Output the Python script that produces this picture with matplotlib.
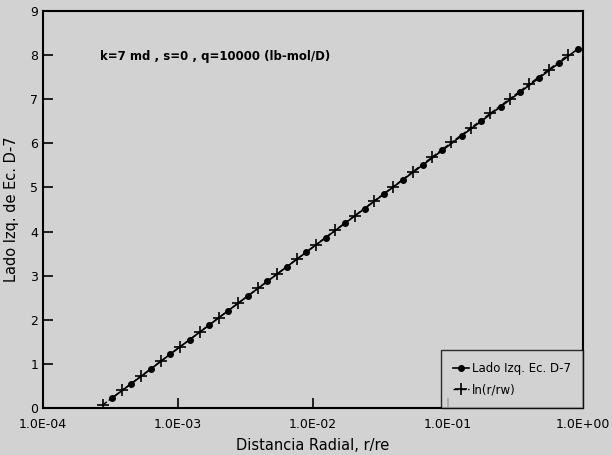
import matplotlib
matplotlib.use("Agg")
import matplotlib.pyplot as plt
import numpy as np

# Lado Izq. Ec. D-7 (puntos)
r_lado = [3.23e-4, 4.50e-4, 6.27e-4, 8.74e-4, 1.22e-3, 1.70e-3, 2.36e-3, 3.29e-3,
          4.59e-3, 6.39e-3, 8.90e-3, 1.24e-2, 1.73e-2, 2.41e-2, 3.35e-2, 4.67e-2,
          6.51e-2, 9.07e-2, 0.126, 0.176, 0.245, 0.342, 0.476, 0.664, 0.925]
y_lado = [0.22, 0.55, 0.88, 1.22, 1.55, 1.88, 2.21, 2.54, 2.87, 3.20, 3.53, 3.86,
          4.19, 4.52, 4.85, 5.18, 5.51, 5.84, 6.17, 6.50, 6.83, 7.16, 7.49, 7.82, 8.15]

# ln(r/rw) (cruces)
r_ln = [2.77e-4, 3.85e-4, 5.36e-4, 7.46e-4, 1.04e-3, 1.45e-3, 2.01e-3, 2.80e-3,
        3.90e-3, 5.42e-3, 7.55e-3, 1.05e-2, 1.46e-2, 2.04e-2, 2.83e-2, 3.94e-2,
        5.50e-2, 7.64e-2, 0.106, 0.148, 0.206, 0.287, 0.399, 0.556, 0.773]
y_ln = [0.07, 0.40, 0.73, 1.06, 1.39, 1.72, 2.05, 2.38, 2.71, 3.04, 3.37, 3.70,
        4.03, 4.36, 4.69, 5.02, 5.36, 5.69, 6.02, 6.35, 6.68, 7.01, 7.34, 7.67, 8.00]

xticks = [1e-4, 1e-3, 1e-2, 1e-1, 1e0]
xtick_labels = ["1.0E-04", "1.0E-03", "1.0E-02", "1.0E-01", "1.0E+00"]
yticks = [0, 1, 2, 3, 4, 5, 6, 7, 8, 9]

bg = "#d2d2d2"
fig = plt.figure(figsize=(6.12, 4.55), dpi=100, facecolor=bg)
ax = fig.add_axes([0.0703, 0.1033, 0.8823, 0.8725], facecolor=bg)

ax.plot(r_lado, y_lado, "-", color="black", lw=1.2, marker="o", ms=4,
        label="Lado Izq. Ec. D-7")
ax.plot(r_ln, y_ln, "--", color="black", lw=1.0, marker="+", ms=9, mew=1.2,
        label="ln(r/rw)")

ax.set_xscale("log")
ax.set_xlim(1e-4, 1e0)
ax.set_ylim(0, 9)
ax.set_xticks(xticks)
ax.set_xticklabels(xtick_labels)
ax.minorticks_off()
ax.set_yticks(yticks)
ax.tick_params(direction="in", length=7, width=1.2, labelsize=9,
               top=False, right=False, colors="black")
ax.tick_params(axis="x", pad=7)
for s in ax.spines.values():
    s.set_linewidth(1.5)

ax.set_xlabel("Distancia Radial, r/re", fontsize=10.5, labelpad=5)
ax.set_ylabel("Lado Izq. de Ec. D-7", fontsize=10.5, labelpad=8)

ax.text(0.105, 0.886, "k=7 md , s=0 , q=10000 (lb-mol/D)", transform=ax.transAxes,
        fontsize=8.5, fontweight="bold", va="center")

leg = ax.legend(loc="lower right", fontsize=8.5, frameon=True, fancybox=False,
                borderaxespad=0, handlelength=1.3, handletextpad=0.3,
                borderpad=1.0, labelspacing=0.7)
leg.get_frame().set_edgecolor("black")
leg.get_frame().set_facecolor(bg)
leg.get_frame().set_linewidth(1.0)

fig.savefig("out.png", dpi=100, facecolor=bg)
